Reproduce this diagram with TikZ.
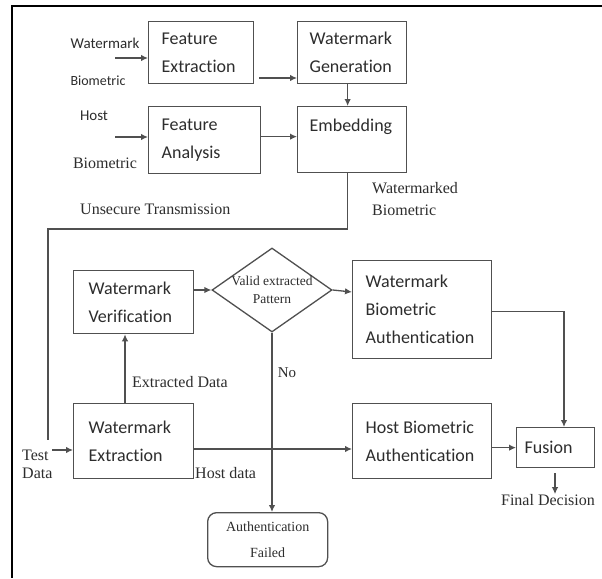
\documentclass[tikz,border=0pt]{standalone}
\usepackage{fontspec}
\setmainfont{Liberation Serif}
\newfontfamily\carl[Ligatures={NoCommon,NoContextual},RawFeature={-calt}]{Carlito}
\usetikzlibrary{arrows.meta,shapes.geometric}
\definecolor{lc}{RGB}{80,80,80}
\definecolor{tc}{RGB}{45,45,45}
\begin{document}
\begin{tikzpicture}[x=1pt,y=-1pt,
  ln/.style={draw=lc, line width=1.3pt},
  arr/.style={draw=lc, line width=1.3pt, -{Latex[length=7pt,width=6.5pt]}},
  box/.style={draw=lc, line width=1.3pt, anchor=north west, align=flush left, inner xsep=13pt, inner ysep=0pt,
    font=\carl\fontsize{18}{28}\selectfont, text=tc},
  lab/.style={font=\fontsize{16}{20}\selectfont, text=tc, inner sep=0pt},
  slab/.style={font=\carl\fontsize{15}{18}\selectfont, text=tc, inner sep=0pt}]
\useasboundingbox (0,0) rectangle (602,578);
\fill[white] (0,0) rectangle (602,578);
\draw[line width=2pt] (602,6) -- (12,6) -- (12,578);

% boxes
\node[box, minimum width=105pt, minimum height=62pt, text width=79pt] (FE) at (148,21) {Feature\\Extraction};
\node[box, minimum width=109pt, minimum height=62pt, text width=85pt, inner xsep=12pt] (WG) at (297,21) {Watermark\\Generation};
\node[box, minimum width=112pt, minimum height=67pt, text width=86pt] (FA) at (148,106) {Feature\\Analysis};
\node[box, minimum width=109pt, minimum height=66pt, text width=85pt, inner xsep=12pt] (Emb) at (297,106) {Embedding\\\mbox{}};
\node[box, minimum width=120pt, minimum height=63pt, text width=90pt, inner xsep=15pt] (WV) at (73,270) {Watermark\\Verification};
\node[draw=lc, line width=1.3pt, diamond, minimum width=120pt, minimum height=84pt, inner sep=0pt] (D) at (272,290) {};
\node[font=\fontsize{13.5}{18}\selectfont, text=tc, align=center, inner sep=0pt] (Dt) at (D.center) {Valid extracted\\Pattern};
\node[box, minimum width=139pt, minimum height=98pt, text width=113pt] (WBA) at (352,260) {Watermark\\Biometric\\Authentication};
\node[box, minimum width=120pt, minimum height=75pt, text width=90pt, inner xsep=15pt] (WE) at (73,403) {Watermark\\Extraction};
\node[box, minimum width=139pt, minimum height=75pt, text width=113pt] (HBA) at (352,403) {Host Biometric\\Authentication};
\node[box, minimum width=78pt, minimum height=40pt, text width=62pt, inner xsep=8pt] (Fu) at (516,427) {Fusion};
\node[draw=lc, line width=1.3pt, rounded corners=9pt, anchor=north west, minimum width=120pt, minimum height=54pt,
  align=center, inner sep=0pt, font=\fontsize{14}{26}\selectfont, text=tc] (AF) at (207,512) {Authentication\\Failed};

% labels
\node[slab] (lwm) at (105,43) {Watermark};
\node[slab, font=\carl\fontsize{14}{18}\selectfont] (lb1) at (98,81) {Biometric};
\node[slab] (lhost) at (94,116) {Host};
\node[lab] (lb2) at (105,163) {Biometric};
\node[lab, anchor=west] (lun) at (80,209) {Unsecure Transmission};
\node[lab, anchor=west, align=left, font=\fontsize{16}{22}\selectfont] (lwk) at (372,199) {Watermarked\\Biometric};
\node[lab, anchor=west] (lext) at (132,382) {Extracted Data};
\node[lab, font=\fontsize{15}{18}\selectfont] (lno) at (287,373) {No};
\node[lab, anchor=west] (lhd) at (195,473) {Host data};
\node[lab, anchor=west, align=left, font=\fontsize{16}{18}\selectfont] (ltd) at (22,464) {Test\\Data};
\node[lab] (lfd) at (548,500) {Final Decision};

% coordinates
\coordinate (wmin) at (115,58);
\coordinate (fein) at (259,78);
\coordinate (hin) at (115,137);
\coordinate (t1) at (48,229);
\coordinate (t2) at (48,440);
\coordinate (tin) at (52,450);
\coordinate (xv) at (125,0);
\coordinate (yh) at (0,449);
\coordinate (xf) at (564,0);
\coordinate (fd0) at (555,473);

% connectors
\draw[arr] (wmin) -- (wmin -| FE.west);
\draw[arr] (fein) -- (fein -| WG.west);
\draw[arr] ([xshift=-4.5pt]WG.south) -- ([xshift=-4.5pt]Emb.north);
\draw[arr] (hin) -- (hin -| FA.west);
\draw[arr] ([yshift=3.5pt]FA.east) -- ([yshift=3.5pt]FA.east -| Emb.west);
\draw[ln] ([xshift=-4.5pt]Emb.south) |- (t1) -- (t2);
\draw[arr] (tin) -- (tin -| WE.west);
\draw[arr] (WE.north -| xv) -- (WV.south -| xv);
\draw[arr] (WV.east |- D.west) -- (D.west);
\draw[arr] (D.east) -- ([yshift=-2pt]D.east -| WBA.west);
\draw[arr] (D.south) -- (D.south |- AF.north);
\draw[arr] (WE.east |- yh) -- (HBA.west |- yh);
\draw[arr] (HBA.east |- Fu.west) -- (Fu.west);
\draw[arr] ([yshift=-2pt]WBA.east) -| (xf |- Fu.north);
\draw[arr] (fd0) -- (fd0 |- lfd.north);
\end{tikzpicture}
\end{document}
